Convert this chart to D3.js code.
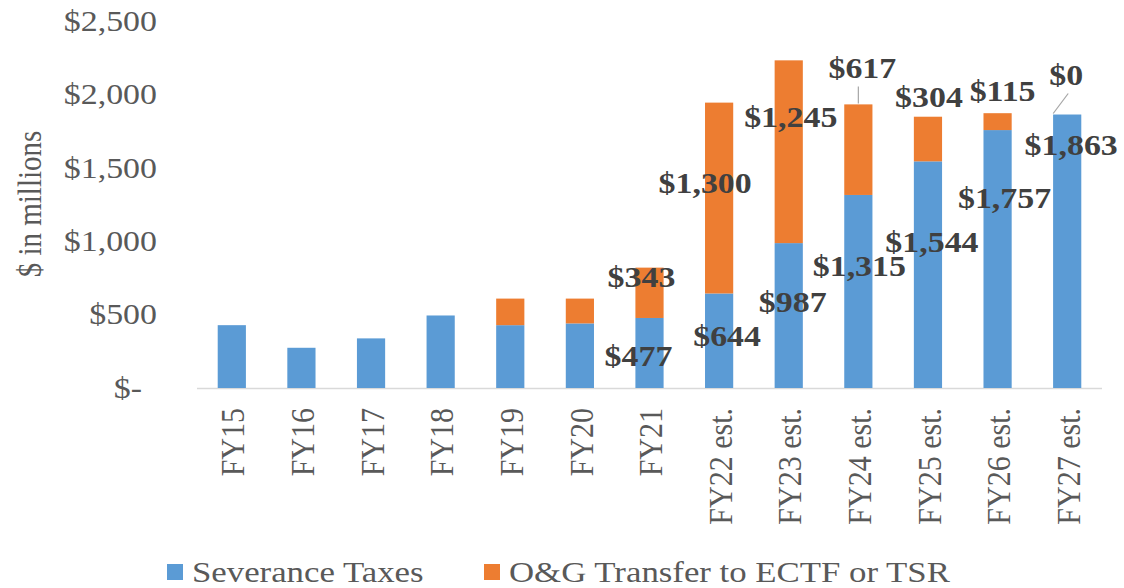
<!DOCTYPE html>
<html>
<head>
<meta charset="utf-8">
<script src="https://cdn.jsdelivr.net/npm/d3@7"></script>
<style>
  html, body { margin: 0; padding: 0; background: #ffffff; }
  svg { display: block; }
</style>
</head>
<body>
<svg id="chart" width="1124" height="588"></svg>
<script>
// ---- data ----
const categories = ["FY15","FY16","FY17","FY18","FY19","FY20","FY21",
  "FY22 est.","FY23 est.","FY24 est.","FY25 est.","FY26 est.","FY27 est."];
const severanceTaxes = [428, 274, 338, 494, 428, 440, 477, 644, 987, 1315, 1544, 1757, 1863];
const ogTransfer     = [0, 0, 0, 0, 181, 169, 343, 1300, 1245, 617, 304, 115, 0];
const seriesNames = ["Severance Taxes", "O&G Transfer to ECTF or TSR"];
const yTicks = [0, 500, 1000, 1500, 2000, 2500];
const labelFrom = 6;

// ---- layout / style ----
const plotLeft = 197, plotRight = 1102, baseY = 388, topY = 21;
const blue = "#5B9BD5", orange = "#ED7D31";
const axisColor = "#595959", labelColor = "#404040";
const FONT = "'Liberation Serif', 'Times New Roman', serif";
const SX = 1.13; // horizontal glyph stretch seen in the reference
const SXL = 1.16;
const blueLabelOff = { 6:[-11,38], 7:[8,42], 8:[4,59], 9:[1,71], 10:[4,80], 11:[7,68], 12:[4,30] };
const orangeLabelOff = { 6:[-8,9], 7:[-14,80], 8:[2,56], 9:[4,-37], 10:[1,-20], 11:[5,-22], 12:[-1,-40] };

const svg = d3.select("#chart");

const x = d3.scaleBand().domain(categories).range([plotLeft, plotRight]).padding(0);
const y = d3.scaleLinear().domain([0, 2500]).range([baseY, topY]);
const barW = x.bandwidth() * 0.405;
const cx = c => x(c) + x.bandwidth() / 2;

svg.append("line")
  .attr("x1", plotLeft).attr("x2", plotRight)
  .attr("y1", baseY + 0.5).attr("y2", baseY + 0.5)
  .attr("stroke", "#d9d9d9").attr("stroke-width", 1.5);

const rows = categories.map((c, i) => ({ c, i, s: severanceTaxes[i], o: ogTransfer[i] }));
svg.append("g").selectAll("rect").data(rows).join("rect")
  .attr("x", d => cx(d.c) - barW / 2)
  .attr("width", barW)
  .attr("y", d => y(d.s))
  .attr("height", d => y(0) - y(d.s))
  .attr("fill", blue);
svg.append("g").selectAll("rect").data(rows.filter(d => d.o > 0)).join("rect")
  .attr("x", d => cx(d.c) - barW / 2)
  .attr("width", barW)
  .attr("y", d => y(d.s + d.o))
  .attr("height", d => y(d.s) - y(d.s + d.o))
  .attr("fill", orange);

const yAxis = d3.axisLeft(y).tickValues(yTicks).tickSize(0).tickPadding(0)
  .tickFormat(v => v === 0 ? "$-" : "$" + d3.format(",")(v));
const gy = svg.append("g").attr("transform", "translate(157,0)").call(yAxis);
gy.select(".domain").remove();
gy.selectAll("text")
  .attr("x", 0).attr("dy", null)
  .attr("dominant-baseline", "central")
  .attr("fill", axisColor)
  .style("font-family", FONT).style("font-size", "30px")
  .attr("transform", v => (v === 0 ? "translate(-15,-1)" : "translate(0,-1)") + ` scale(${SX},1)`);

const xAxis = d3.axisBottom(x).tickSize(0).tickPadding(0);
const gx = svg.append("g").attr("transform", `translate(0,${baseY})`).call(xAxis);
gx.select(".domain").remove();
gx.selectAll("text")
  .attr("x", 0).attr("y", 0).attr("dy", null)
  .attr("dominant-baseline", "central")
  .attr("text-anchor", "end")
  .attr("fill", axisColor)
  .style("font-family", FONT).style("font-size", "30px")
  .attr("transform", `translate(1,20) scale(${SX},1) rotate(-90)`);

svg.append("text")
  .attr("transform", `translate(30,204) scale(${SX},1) rotate(-90)`)
  .attr("text-anchor", "middle").attr("dominant-baseline", "central")
  .attr("fill", axisColor)
  .style("font-family", FONT).style("font-size", "29px")
  .text("$ in millions");

const fmt = v => "$" + d3.format(",")(v);
const lbl = svg.append("g")
  .style("font-family", FONT).style("font-size", "30px").style("font-weight", "bold")
  .attr("fill", labelColor);
rows.filter(d => d.i >= labelFrom).forEach(d => {
  const bo = blueLabelOff[d.i], oo = orangeLabelOff[d.i];
  lbl.append("text")
    .attr("transform", `translate(${cx(d.c) + bo[0]},${y(d.s) + bo[1]}) scale(${SX},1)`)
    .attr("text-anchor", "middle").attr("dominant-baseline", "central")
    .text(fmt(d.s));
  lbl.append("text")
    .attr("transform", `translate(${cx(d.c) + oo[0]},${y(d.s + d.o) + oo[1]}) scale(${SX},1)`)
    .attr("text-anchor", "middle").attr("dominant-baseline", "central")
    .text(fmt(d.o));
});
const leaders = svg.append("g").attr("stroke", "#a6a6a6").attr("stroke-width", 1.2);
[9].forEach(i => {
  const c = categories[i];
  leaders.append("line")
    .attr("x1", cx(c)).attr("x2", cx(c))
    .attr("y1", y(severanceTaxes[i] + ogTransfer[i]) - 1)
    .attr("y2", y(severanceTaxes[i] + ogTransfer[i]) - 18);
});
[12].forEach(i => {
  const c = categories[i];
  const t = y(severanceTaxes[i] + ogTransfer[i]);
  leaders.append("line")
    .attr("x1", cx(c) - 14).attr("y1", t - 1)
    .attr("x2", cx(c) + 1).attr("y2", t - 21);
});

const legend = svg.append("g").attr("transform", "translate(0,572)");
const legendItems = [
  { name: seriesNames[0], color: blue, x: 167 },
  { name: seriesNames[1], color: orange, x: 484 }
];
legendItems.forEach(it => {
  legend.append("rect").attr("x", it.x).attr("y", -8).attr("width", 16).attr("height", 16).attr("fill", it.color);
  legend.append("text")
    .attr("transform", `translate(${it.x + 25},0) scale(${SXL},1)`)
    .attr("dominant-baseline", "central")
    .attr("fill", axisColor)
    .style("font-family", FONT).style("font-size", "30px")
    .text(it.name);
});
</script>
</body>
</html>
